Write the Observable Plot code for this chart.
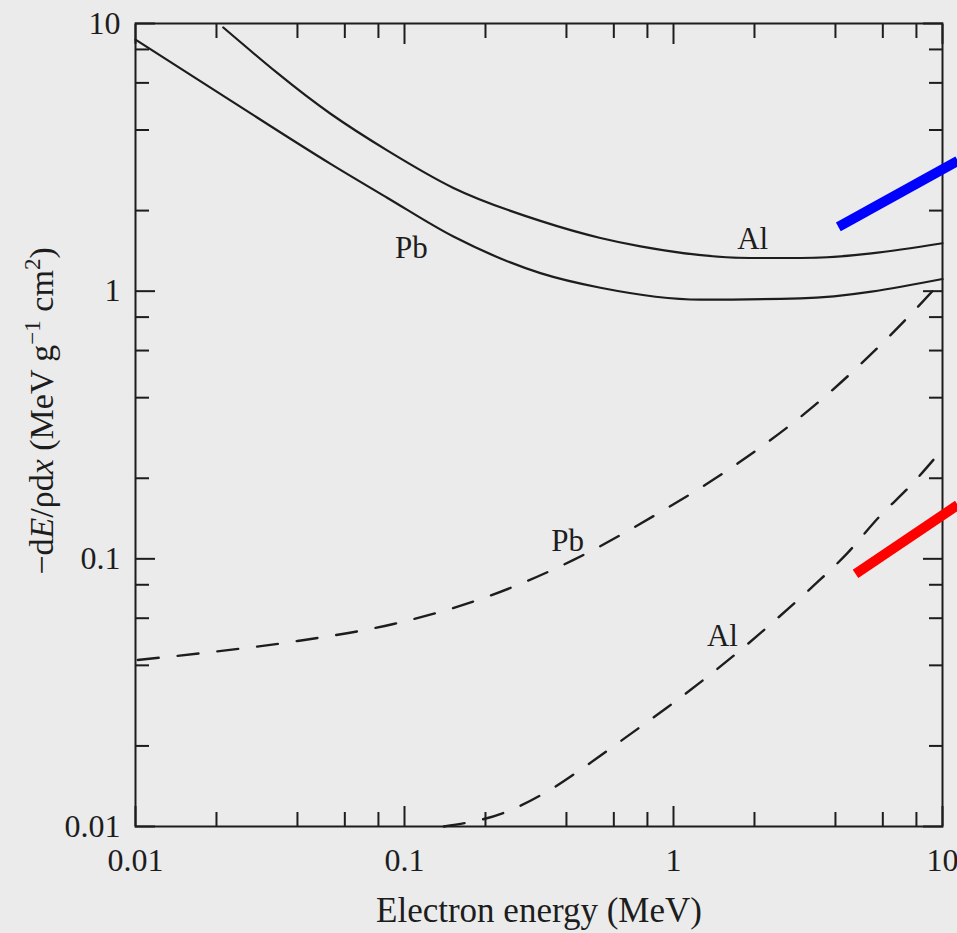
<!DOCTYPE html>
<html>
<head>
<meta charset="utf-8">
<script src="https://cdn.jsdelivr.net/npm/d3@7"></script>
<script src="https://cdn.jsdelivr.net/npm/@observablehq/plot@0.6"></script>
<style>
  html, body { margin: 0; padding: 0; background: #ebebeb; }
  #chart svg { display: block; }
</style>
</head>
<body>
<div id="chart"></div>
<script>
// ---- Data ----
// Collision (solid) stopping power, Al
const alCollE = [0.0212, 0.0531, 0.0865, 0.152, 0.32, 0.535, 0.754, 1.93, 2.96, 10];
const alCollV = [9.66, 4.60, 3.35, 2.43, 1.83, 1.58, 1.47, 1.33, 1.33, 1.51];
// Collision (solid) stopping power, Pb
const pbCollE = [0.01, 0.0226, 0.0531, 0.0865, 0.152, 0.32, 0.535, 1.26, 2.96, 10];
const pbCollV = [8.71, 5.15, 2.99, 2.23, 1.60, 1.168, 1.03, 0.93, 0.94, 1.11];
// Radiative (dashed) stopping power, Pb
const pbRadE = [0.0102, 0.0179, 0.040, 0.091, 0.197, 0.425, 0.873, 1.73, 3.31, 7.8, 10];
const pbRadV = [0.0419, 0.0445, 0.0493, 0.0571, 0.0714, 0.0991, 0.1475, 0.227, 0.371, 0.84, 1.10];
// Radiative (dashed) stopping power, Al
const alRadE = [0.14, 0.237, 0.343, 0.483, 0.681, 0.95, 1.315, 1.81, 2.44, 3.31, 4.43, 5.78, 7.73, 9.84];
const alRadV = [0.0100, 0.0113, 0.0136, 0.0171, 0.0219, 0.0279, 0.0358, 0.0464, 0.0601, 0.0792, 0.105, 0.1425, 0.191, 0.252];

// Curve labels
const labelText = ["Pb", "Al", "Pb", "Al"];
const labelE = [0.106, 1.97, 0.404, 1.52];
const labelV = [1.45, 1.57, 0.1168, 0.0515];

// Coloured annotation strokes overlaid on the figure
const blueE = [4.10, 11.4];
const blueV = [1.737, 3.07];
const redE = [4.75, 11.4];
const redV = [0.0879, 0.159];

// Axis ticks
const majorTicks = [0.01, 0.1, 1, 10];
const minorTicks = [0.02, 0.04, 0.06, 0.08, 0.2, 0.4, 0.6, 0.8, 2, 4, 6, 8];
const tickLabels = ["0.01", "0.1", "1", "10"];

const xTitle = "Electron energy (MeV)";
const yTitle = "\u2212dE/\u03c1dx (MeV g\u22121 cm2)";

// ---- Build ----
const toRows = (E, V) => E.map((e, i) => ({e, v: V[i]}));
const ink = "#1d1d1d";
const serif = "'Liberation Serif', 'Times New Roman', 'DejaVu Serif', serif";
const fmt = d => tickLabels[majorTicks.indexOf(d)];

const tickAxes = [];
for (const a of ["bottom", "top"]) {
  tickAxes.push(Plot.axisX({anchor: a, ticks: majorTicks, tickSize: -20, fill: "none", stroke: ink, strokeWidth: 2, label: null}));
  tickAxes.push(Plot.axisX({anchor: a, ticks: minorTicks, tickSize: -14, fill: "none", stroke: ink, strokeWidth: 2, label: null}));
}
for (const a of ["left", "right"]) {
  tickAxes.push(Plot.axisY({anchor: a, ticks: majorTicks, tickSize: -20, fill: "none", stroke: ink, strokeWidth: 2, label: null}));
  tickAxes.push(Plot.axisY({anchor: a, ticks: minorTicks, tickSize: -14, fill: "none", stroke: ink, strokeWidth: 2, label: null}));
}

const plot = Plot.plot({
  width: 957,
  height: 933,
  marginLeft: 135,
  marginRight: 15,
  marginTop: 23,
  marginBottom: 107,
  x: {type: "log", domain: [0.01, 10]},
  y: {type: "log", domain: [0.01, 10]},
  style: {background: "#ebebeb", color: ink, fontFamily: serif, fontSize: "32px"},
  marks: [
    Plot.line(toRows(alCollE, alCollV), {x: "e", y: "v", stroke: ink, strokeWidth: 2.2, curve: "monotone-x"}),
    Plot.line(toRows(pbCollE, pbCollV), {x: "e", y: "v", stroke: ink, strokeWidth: 2.2, curve: "monotone-x"}),
    Plot.line(toRows(pbRadE, pbRadV), {x: "e", y: "v", stroke: ink, strokeWidth: 2.4, strokeDasharray: "21,19", curve: "monotone-x"}),
    Plot.line(toRows(alRadE, alRadV), {x: "e", y: "v", stroke: ink, strokeWidth: 2.4, strokeDasharray: "21,19", curve: "monotone-x"}),
    Plot.frame({stroke: ink, strokeWidth: 2}),
    ...tickAxes,
    Plot.axisX({anchor: "bottom", ticks: majorTicks, tickSize: 0, tickPadding: 22, tickFormat: fmt, fill: ink, label: null, fontSize: 32}),
    Plot.axisY({anchor: "left", ticks: majorTicks, tickSize: 0, tickPadding: 15, tickFormat: fmt, fill: ink, label: null, fontSize: 32}),
    Plot.text(labelText.map((t, i) => ({t, e: labelE[i], v: labelV[i]})), {x: "e", y: "v", text: "t", fill: ink, fontSize: 31}),
    Plot.text([xTitle], {frameAnchor: "bottom", dy: 84, textAnchor: "middle", lineAnchor: "middle", text: d => d, fill: ink, fontSize: 35}),
    Plot.text([yTitle], {frameAnchor: "left", dx: -93, dy: -14, rotate: -90, textAnchor: "middle", lineAnchor: "middle", text: d => d, fill: ink, fontSize: 34}),
    Plot.line(toRows(blueE, blueV), {x: "e", y: "v", stroke: "#0000ff", strokeWidth: 10, strokeLinecap: "butt"}),
    Plot.line(toRows(redE, redV), {x: "e", y: "v", stroke: "#ff0000", strokeWidth: 10, strokeLinecap: "butt"})
  ]
});

// Rich formatting for the y-axis title (italics and superscripts)
const NS = "http://www.w3.org/2000/svg";
plot.querySelectorAll("text").forEach(t => {
  if (t.textContent === yTitle) {
    t.textContent = "";
    const parts = [
      ["\u2212d", {}],
      ["E", {"font-style": "italic"}],
      ["/\u03c1d", {}],
      ["x", {"font-style": "italic"}],
      [" (MeV g", {}],
      ["\u22121", {"font-size": "23px", "dy": "-13"}],
      [" cm", {"dy": "13"}],
      ["2", {"font-size": "23px", "dy": "-13"}],
      [")", {"dy": "13"}]
    ];
    for (const [s, attrs] of parts) {
      const ts = document.createElementNS(NS, "tspan");
      for (const k in attrs) ts.setAttribute(k, attrs[k]);
      ts.textContent = s;
      t.appendChild(ts);
    }
  }
});

document.getElementById("chart").appendChild(plot);
</script>
</body>
</html>
